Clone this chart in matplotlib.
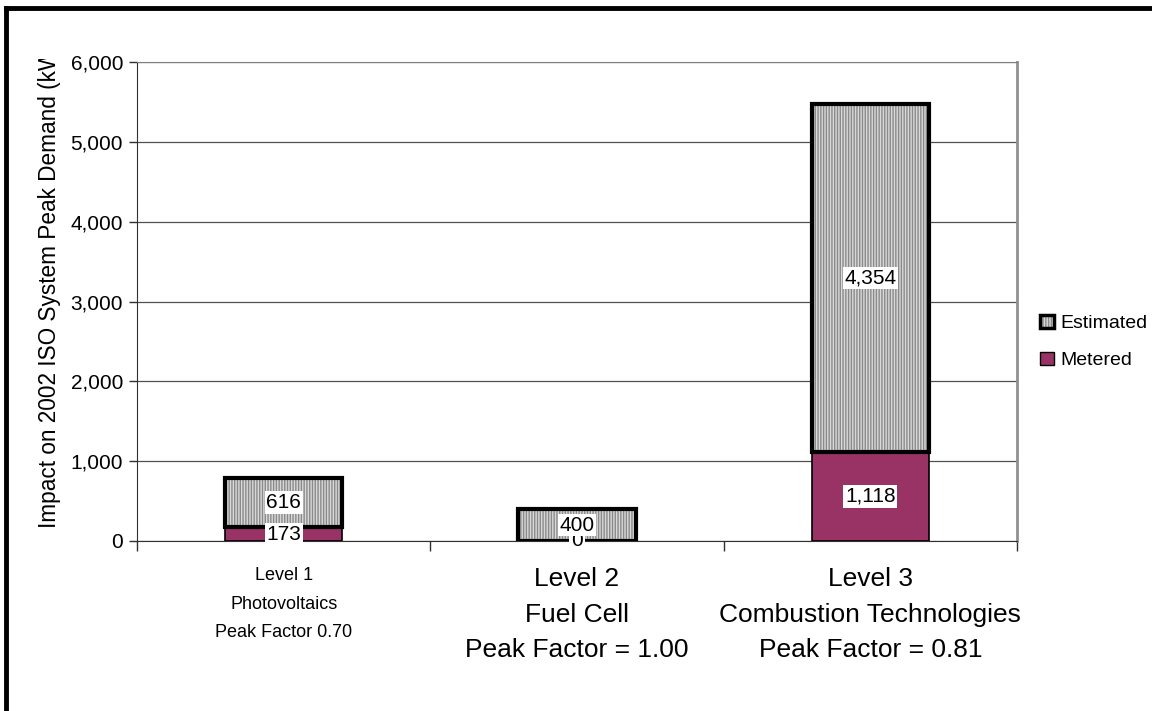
import matplotlib
matplotlib.use("Agg")
import matplotlib.pyplot as plt
import numpy as np
from matplotlib.lines import Line2D
from matplotlib.patches import Patch
from matplotlib.legend_handler import HandlerTuple
from matplotlib.transforms import Bbox, TransformedBbox

plt.rcParams['font.family'] = ['Liberation Sans', 'DejaVu Sans']
plt.rcParams['hatch.linewidth'] = 1.0

# Valores (kW) por nível
niveis = ["Level 1\nPhotovoltaics\nPeak Factor 0.70",
          "Level 2\nFuel Cell\nPeak Factor = 1.00",
          "Level 3\nCombustion Technologies\nPeak Factor = 0.81"]
medido = [173, 0, 1118]
estimado = [616, 400, 4354]
y_ticks = [0, 1000, 2000, 3000, 4000, 5000, 6000]

cor_medido = '#993366'
cor_fundo = '#d9d9d9'
cor_listra = '#8a8a8a'

fig = plt.figure(figsize=(11.52, 7.11), dpi=100)
ax = fig.add_axes([137/1152, 1-541/711, 880/1152, 479/711])

x = np.arange(len(niveis))
w = 0.4
med = np.array(medido)
est = np.array(estimado)

# Barras empilhadas
ax.bar(x, med, w, color=cor_medido, edgecolor='black', linewidth=1.2, zorder=3)
ax.bar(x, est, w, bottom=med, facecolor=cor_fundo, edgecolor=cor_listra,
       hatch='|' * 6, linewidth=0, zorder=3)
ax.bar(x, est, w, bottom=med, fill=False, edgecolor='black', linewidth=3, zorder=4)

# Rótulos de valor com caixa branca
caixa = dict(boxstyle='square,pad=0.08', facecolor='white', edgecolor='none')
for xi, m in zip(x, med):
    ax.text(xi, m / 2, f"{m:,}", ha='center', va='center', fontsize=15,
            bbox=caixa, zorder=5)
for xi, m, e in zip(x, med, est):
    ax.text(xi, m + e / 2, f"{e:,}", ha='center', va='center', fontsize=15,
            bbox=caixa, zorder=6)

# Eixos
ax.set_xlim(-0.5, 2.5)
ax.set_ylim(0, 6000)
ax.set_yticks(y_ticks)
ax.set_yticklabels([f"{v:,}" for v in y_ticks], fontsize=15)
ax.yaxis.grid(True, color='#505050', linewidth=0.9, zorder=0)
ax.set_axisbelow(True)
ax.tick_params(axis='y', length=6, width=1, color='#303030', pad=4)

ax.set_xticks(x)
ax.set_xticklabels(niveis)
ax.set_xticks([-0.5, 0.5, 1.5, 2.5], minor=True)
ax.tick_params(axis='x', which='major', length=0, pad=19)
ax.tick_params(axis='x', which='minor', length=7, width=1, color='#303030')
tam = [13, 19, 19]
esp = [1.87, 1.6, 1.6]
for lbl, t, s in zip(ax.get_xticklabels(), tam, esp):
    lbl.set_fontsize(t)
    lbl.set_linespacing(s)

ax.spines['left'].set_color('#303030')
ax.spines['bottom'].set_color('#303030')
ax.spines['top'].set_color('#808080')
ax.spines['right'].set_color('#909090')
ax.spines['right'].set_linewidth(2)

# Título do eixo y (cortado no topo da área do gráfico)
yl = fig.text(50/1152, 1-528/711, "Impact on 2002 ISO System Peak Demand (kW)",
              rotation=90, ha='center', va='bottom', fontsize=16.3)
yl.set_clip_box(TransformedBbox(Bbox([[10/1152, 0], [1, 1-59/711]]), fig.transFigure))

# Legenda
h_est = (Patch(facecolor=cor_fundo, edgecolor=cor_listra, hatch='|' * 6, linewidth=0),
         Patch(fill=False, edgecolor='black', linewidth=2.5))
h_med = Patch(facecolor=cor_medido, edgecolor='black', linewidth=1)
fig.legend([h_est, h_med], ["Estimated", "Metered"],
           handler_map={tuple: HandlerTuple(ndivide=1, pad=0)},
           loc='center left', bbox_to_anchor=(1040/1152, 1-342/711),
           frameon=False, fontsize=14, handlelength=0.7, handleheight=0.7,
           handletextpad=0.35, labelspacing=1.0, borderpad=0, borderaxespad=0)

# Moldura
fig.add_artist(Line2D([6/1152, 6/1152], [0, 1-8/711], color='black', linewidth=3.5,
                      transform=fig.transFigure, solid_capstyle='projecting'))
fig.add_artist(Line2D([6/1152, 1], [1-8/711, 1-8/711], color='black', linewidth=3.5,
                      transform=fig.transFigure, solid_capstyle='projecting'))

fig.savefig('out.png', dpi=100)
